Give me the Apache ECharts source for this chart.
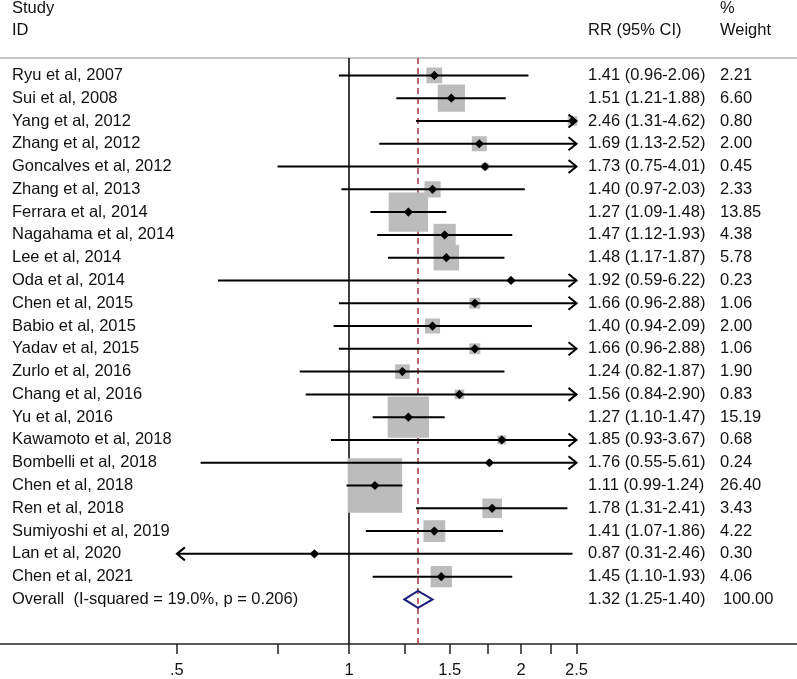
<!DOCTYPE html>
<html>
<head>
<meta charset="utf-8">
<script src="https://cdn.jsdelivr.net/npm/echarts@6/dist/echarts.min.js"></script>
<style>html,body{margin:0;padding:0;background:#fff}#chart{width:797px;height:679px}</style>
</head>
<body>
<div id="chart"></div>
<script>
var chart = echarts.init(document.getElementById('chart'));

// study rows
const studies = ['Ryu et al, 2007', 'Sui et al, 2008', 'Yang et al, 2012', 'Zhang et al, 2012',
  'Goncalves et al, 2012', 'Zhang et al, 2013', 'Ferrara et al, 2014', 'Nagahama et al, 2014',
  'Lee et al, 2014', 'Oda et al, 2014', 'Chen et al, 2015', 'Babio et al, 2015', 'Yadav et al, 2015',
  'Zurlo et al, 2016', 'Chang et al, 2016', 'Yu et al, 2016', 'Kawamoto et al, 2018',
  'Bombelli et al, 2018', 'Chen et al, 2018', 'Ren et al, 2018', 'Sumiyoshi et al, 2019',
  'Lan et al, 2020', 'Chen et al, 2021'];
const rr = [1.41, 1.51, 2.46, 1.69, 1.73, 1.40, 1.27, 1.47, 1.48, 1.92, 1.66, 1.40, 1.66, 1.24, 1.56, 1.27, 1.85, 1.76, 1.11, 1.78, 1.41, 0.87, 1.45];
const lower = [0.96, 1.21, 1.31, 1.13, 0.75, 0.97, 1.09, 1.12, 1.17, 0.59, 0.96, 0.94, 0.96, 0.82, 0.84, 1.10, 0.93, 0.55, 0.99, 1.31, 1.07, 0.31, 1.10];
const upper = [2.06, 1.88, 4.62, 2.52, 4.01, 2.03, 1.48, 1.93, 1.87, 6.22, 2.88, 2.09, 2.88, 1.87, 2.90, 1.47, 3.67, 5.61, 1.24, 2.41, 1.86, 2.46, 1.93];
const weights = [2.21, 6.60, 0.80, 2.00, 0.45, 2.33, 13.85, 4.38, 5.78, 0.23, 1.06, 2.00, 1.06, 1.90, 0.83, 15.19, 0.68, 0.24, 26.40, 3.43, 4.22, 0.30, 4.06];

// pooled estimate
const overall = [1.32, 1.25, 1.40];
const overallWeight = 100;
const overallLabel = 'Overall  (I-squared = 19.0%, p = 0.206)';

// axis ticks
const tickValues = [0.5, 0.75, 1, 1.25, 1.5, 1.75, 2, 2.25, 2.5];
const tickLabels = [0.5, 1, 1.5, 2, 2.5];

const clipLo = 0.5, clipHi = 2.5;
const FONT = '16.5px "Liberation Sans", Arial, sans-serif';
const colName = 12, colRR = 588, colW = 720;

function fmt(v) { return v.toFixed(2); }
function ciText(e, l, h) { return fmt(e) + ' (' + fmt(l) + '-' + fmt(h) + ')'; }

function label(text, x, y) {
  return {
    type: 'text', z2: 20,
    style: { text: text, x: x, y: y, font: FONT, fill: '#111', align: 'left', verticalAlign: 'middle' }
  };
}

function renderStudy(params, api) {
  var i = params.dataIndex;
  var row = api.value(1);
  var c = api.coord([rr[i], row]);
  var lo = api.coord([Math.max(lower[i], clipLo), row]);
  var hi = api.coord([Math.min(upper[i], clipHi), row]);
  var y = c[1] + 1;
  var side = 10.6 * Math.sqrt(weights[i]);
  var kids = [];
  kids.push({ type: 'rect', z2: 1, shape: { x: c[0] - side / 2, y: y - side / 2, width: side, height: side }, style: { fill: '#bcbcbc' } });
  kids.push({ type: 'line', z2: 10, shape: { x1: lo[0], y1: y, x2: hi[0], y2: y }, style: { stroke: '#000', lineWidth: 2 } });
  if (lower[i] < clipLo) {
    kids.push({ type: 'polyline', z2: 10, shape: { points: [[lo[0] + 8, y - 6.5], [lo[0], y], [lo[0] + 8, y + 6.5]] }, style: { stroke: '#000', lineWidth: 2, fill: 'none' } });
  }
  if (upper[i] > clipHi) {
    kids.push({ type: 'polyline', z2: 10, shape: { points: [[hi[0] - 8, y - 6.5], [hi[0], y], [hi[0] - 8, y + 6.5]] }, style: { stroke: '#000', lineWidth: 2, fill: 'none' } });
  }
  var d = 4.6;
  kids.push({ type: 'polygon', z2: 11, shape: { points: [[c[0] - d, y], [c[0], y - d], [c[0] + d, y], [c[0], y + d]] }, style: { fill: '#000' } });
  kids.push(label(studies[i], colName, y));
  kids.push(label(ciText(rr[i], lower[i], upper[i]), colRR, y));
  kids.push(label(fmt(weights[i]), colW, y));
  return { type: 'group', children: kids };
}

function renderOverall(params, api) {
  var row = api.value(1);
  var c = api.coord([overall[0], row]);
  var lo = api.coord([overall[1], row]);
  var hi = api.coord([overall[2], row]);
  var y = c[1] + 1, h = 8.5;
  return {
    type: 'group',
    children: [
      { type: 'polygon', z2: 10, shape: { points: [[lo[0], y], [c[0], y - h], [hi[0], y], [c[0], y + h]] }, style: { fill: 'none', stroke: '#1b1b7e', lineWidth: 2 } },
      label(overallLabel, colName, y),
      label(ciText(overall[0], overall[1], overall[2]), colRR, y),
      label(fmt(overallWeight), colW + 3, y)
    ]
  };
}

var xMin = Math.exp(-349 / 248.3), xMax = Math.exp((797 - 349) / 248.3);

var option = {
  animation: false,
  grid: { left: 0, right: 0, top: 58, bottom: 32, containLabel: false },
  xAxis: [{
    type: 'log', logBase: 10, min: xMin, max: xMax, position: 'bottom',
    axisLine: { onZero: false, lineStyle: { color: '#222', width: 1.5 } },
    axisTick: { length: 10, customValues: tickValues, lineStyle: { color: '#222', width: 1.5 } },
    axisLabel: {
      customValues: tickLabels, margin: 18, color: '#111', fontSize: 16.5,
      fontFamily: '"Liberation Sans", Arial, sans-serif',
      formatter: function (v) { return v === 0.5 ? '.5' : String(v); }
    },
    splitLine: { show: false }, minorTick: { show: false }
  }, {
    type: 'log', logBase: 10, min: xMin, max: xMax, position: 'top',
    axisLine: { onZero: false, lineStyle: { color: '#b3b3b3', width: 1.5 } },
    axisTick: { show: false }, axisLabel: { show: false }, splitLine: { show: false }
  }],
  yAxis: { type: 'value', inverse: true, min: -0.72, max: 25, show: false },
  graphic: [
    { type: 'text', x: colName, y: 8, style: { text: 'Study', font: FONT, fill: '#111', verticalAlign: 'middle' } },
    { type: 'text', x: colName, y: 30, style: { text: 'ID', font: FONT, fill: '#111', verticalAlign: 'middle' } },
    { type: 'text', x: colRR, y: 30, style: { text: 'RR (95% CI)', font: FONT, fill: '#111', verticalAlign: 'middle' } },
    { type: 'text', x: colW, y: 8, style: { text: '%', font: FONT, fill: '#111', verticalAlign: 'middle' } },
    { type: 'text', x: colW, y: 30, style: { text: 'Weight', font: FONT, fill: '#111', verticalAlign: 'middle' } }
  ],
  series: [{
    type: 'custom', name: 'studies', z: 3, clip: false,
    renderItem: renderStudy,
    encode: { x: [0, 2, 3], y: 1 },
    data: studies.map(function (s, i) { return [rr[i], i, lower[i], upper[i], weights[i]]; })
  }, {
    type: 'custom', name: 'overall', z: 2, clip: false,
    renderItem: renderOverall,
    encode: { x: [0, 2, 3], y: 1 },
    data: [[overall[0], studies.length, overall[1], overall[2]]],
    markLine: {
      z: 1, silent: true, symbol: 'none', label: { show: false },
      data: [
        { xAxis: 1, lineStyle: { color: '#000', width: 1.5, type: 'solid' } },
        { xAxis: overall[0], lineStyle: { color: '#a8343c', width: 1.5, type: [6, 4] } }
      ]
    }
  }]
};

chart.setOption(option);
</script>
</body>
</html>
